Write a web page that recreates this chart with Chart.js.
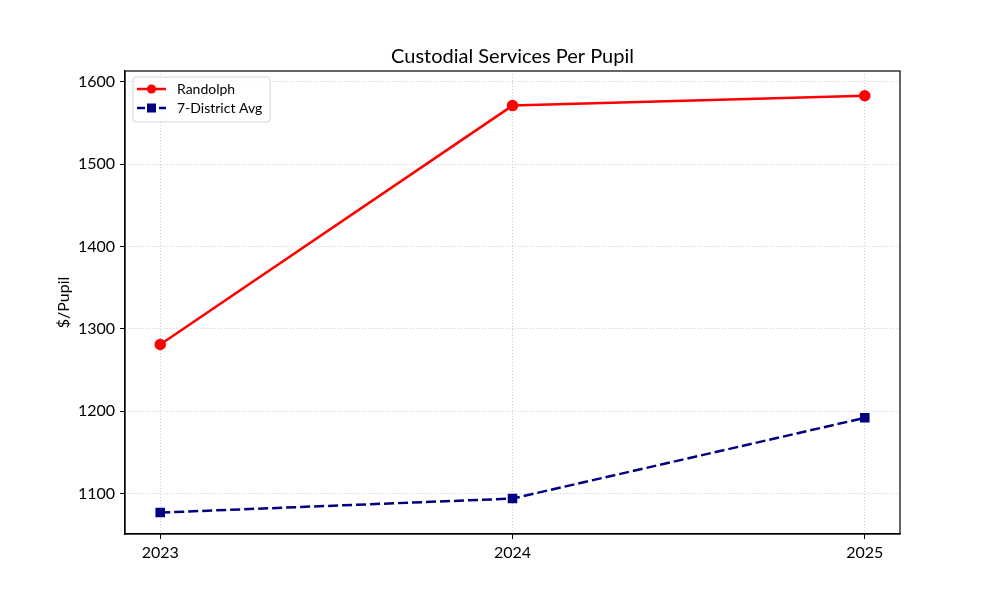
<!DOCTYPE html>
<html>
<head>
<meta charset="utf-8">
<script src="https://cdn.jsdelivr.net/npm/chart.js@4.4.1/dist/chart.umd.min.js"></script>
<style>
  html, body { margin: 0; padding: 0; background: #fff; }
  #wrap { width: 1000px; height: 600px; }
</style>
</head>
<body>
<div id="wrap"><canvas id="chart" width="1000" height="600"></canvas></div>
<script>
// values
const years = [2023, 2024, 2025];
const randolph = [1281, 1571, 1583];
const districtAvg = [1077, 1094, 1192];
const yTicks = [1100, 1200, 1300, 1400, 1500, 1600];

const FONT = "Lato, Inter, 'DejaVu Sans', sans-serif";

// draws the title and a matplotlib-like legend inside the plot
const overlay = {
    id: 'overlay',
    afterDraw(chart) {
        const ctx = chart.ctx;
        const area = chart.chartArea;
        ctx.save();
        ctx.fillStyle = '#000';
        ctx.font = '20px ' + FONT;
        ctx.textAlign = 'center';
        ctx.textBaseline = 'middle';
        ctx.fillText('Custodial Services Per Pupil', (area.left + area.right) / 2, 57);

        // legend box
        const bx = area.left + 8, by = area.top + 6, bw = 137, bh = 45;
        ctx.beginPath();
        ctx.roundRect(bx, by, bw, bh, 3);
        ctx.fillStyle = 'rgba(255,255,255,0.8)';
        ctx.fill();
        ctx.strokeStyle = '#d6d6d6';
        ctx.lineWidth = 1;
        ctx.stroke();

        ctx.font = '14px ' + FONT;
        ctx.textAlign = 'left';
        chart.data.datasets.forEach((ds, i) => {
            const y = by + 12 + i * 19;
            ctx.beginPath();
            ctx.setLineDash(ds.borderDash ? [8, 3] : []);
            ctx.strokeStyle = ds.borderColor;
            ctx.lineWidth = 2.5;
            ctx.moveTo(bx + 4, y);
            ctx.lineTo(bx + 33, y);
            ctx.stroke();
            ctx.setLineDash([]);
            ctx.fillStyle = ds.pointBackgroundColor;
            if (ds.pointStyle === 'rect') {
                ctx.fillRect(bx + 18.5 - 4.5, y - 4.5, 9, 9);
            } else {
                ctx.beginPath();
                ctx.arc(bx + 18.5, y, 4.5, 0, Math.PI * 2);
                ctx.fill();
            }
            ctx.fillStyle = '#000';
            ctx.fillText(ds.label, bx + 44, y);
        });
        ctx.restore();
    }
};

new Chart(document.getElementById('chart'), {
    type: 'line',
    data: {
        datasets: [
            {
                label: 'Randolph',
                data: years.map((y, i) => ({ x: y, y: randolph[i] })),
                borderColor: '#ff0000',
                backgroundColor: '#ff0000',
                pointBackgroundColor: '#ff0000',
                pointBorderColor: '#ff0000',
                borderWidth: 2.5,
                pointStyle: 'circle',
                pointRadius: 4.5,
                tension: 0
            },
            {
                label: '7-District Avg',
                data: years.map((y, i) => ({ x: y, y: districtAvg[i] })),
                borderColor: '#000080',
                backgroundColor: '#000080',
                pointBackgroundColor: '#000080',
                pointBorderColor: '#000080',
                borderWidth: 2.5,
                borderDash: [10, 4],
                pointStyle: 'rect',
                pointRadius: 5,
                tension: 0
            }
        ]
    },
    options: {
        responsive: false,
        animation: false,
        layout: { padding: { left: 54, right: 100, top: 71, bottom: 0 } },
        plugins: {
            legend: { display: false },
            title: { display: false },
            tooltip: { enabled: false }
        },
        scales: {
            x: {
                type: 'linear',
                min: 2022.9,
                max: 2025.1,
                afterBuildTicks: scale => { scale.ticks = years.map(v => ({ value: v })); },
                afterFit: scale => { scale.height = 66; },
                ticks: {
                    color: '#000',
                    font: { family: FONT, size: 16 },
                    padding: 4,
                    callback: v => String(v)
                },
                grid: {
                    color: '#cccccc',
                    tickLength: 5,
                    tickColor: '#000',
                    tickBorderDash: []
                },
                border: { display: true, color: '#000', width: 1.2, dash: [1, 2] }
            },
            y: {
                min: 1051,
                max: 1613,
                afterBuildTicks: scale => { scale.ticks = yTicks.map(v => ({ value: v })); },
                afterFit: scale => { scale.width = 71; },
                title: {
                    display: true,
                    text: '$/Pupil',
                    color: '#000',
                    font: { family: FONT, size: 16 },
                    padding: { top: 0, bottom: 0 }
                },
                ticks: {
                    color: '#000',
                    font: { family: FONT, size: 16 },
                    padding: 5,
                    callback: v => String(v)
                },
                grid: {
                    color: '#cccccc',
                    tickLength: 5,
                    tickColor: '#000',
                    tickBorderDash: []
                },
                border: { display: true, color: '#000', width: 1.2, dash: [1, 2] }
            }
        }
    },
    plugins: [overlay, {
        id: 'frame',
        afterDatasetsDraw(chart) {
            const { ctx, chartArea: a } = chart;
            ctx.save();
            ctx.strokeStyle = '#000';
            ctx.lineWidth = 1.2;
            ctx.setLineDash([]);
            ctx.strokeRect(a.left, a.top, a.right - a.left, a.bottom - a.top);
            ctx.restore();
        }
    }]
});
</script>
</body>
</html>
